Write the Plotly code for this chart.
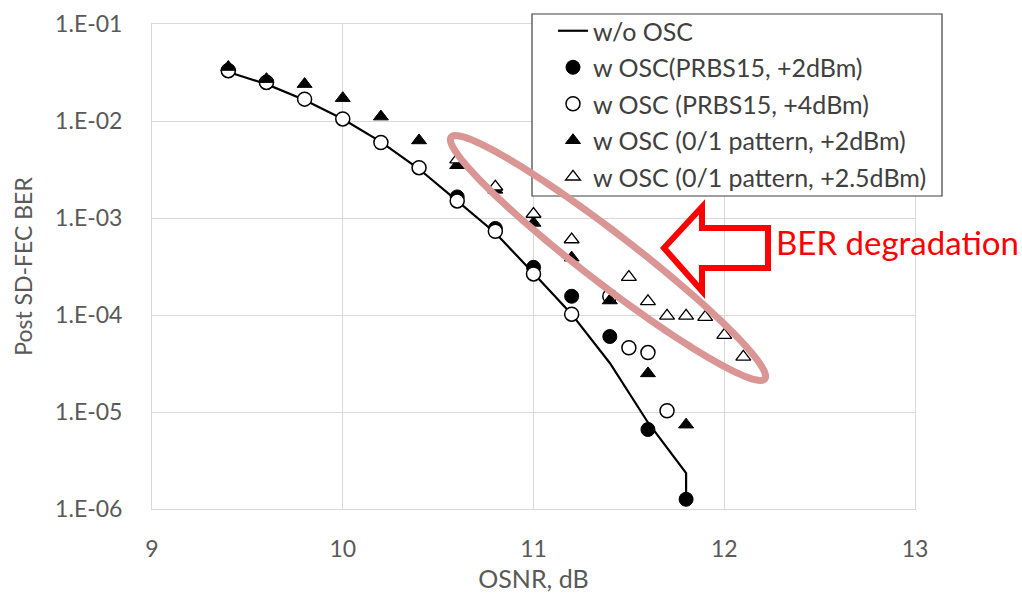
import numpy as np
import plotly.graph_objects as go

# ---- data: OSNR (dB) vs post SD-FEC BER ----
osnr_wo = [9.4, 9.6, 9.8, 10.0, 10.2, 10.4, 10.6, 10.8, 11.0, 11.2, 11.4, 11.6, 11.8, 11.8]
ber_wo = [3.2e-2, 2.4e-2, 1.65e-2, 1.05e-2, 6.1e-3, 3.2e-3, 1.5e-3, 7.0e-4, 2.7e-4,
          1.02e-4, 3.2e-5, 7.8e-6, 2.35e-6, 1.3e-6]

osnr_prbs_2 = [9.4, 9.6, 10.6, 10.8, 11.0, 11.2, 11.4, 11.6, 11.8]
ber_prbs_2 = [3.3e-2, 2.5e-2, 1.65e-3, 7.8e-4, 3.1e-4, 1.56e-4, 6.0e-5, 6.6e-6, 1.26e-6]

osnr_prbs_4 = [9.4, 9.6, 9.8, 10.0, 10.2, 10.4, 10.6, 10.8, 11.0, 11.2, 11.4, 11.5, 11.6, 11.7]
ber_prbs_4 = [3.3e-2, 2.5e-2, 1.68e-2, 1.05e-2, 6.0e-3, 3.3e-3, 1.5e-3, 7.3e-4, 2.65e-4,
              1.02e-4, 1.56e-4, 4.6e-5, 4.1e-5, 1.03e-5]

osnr_pat_2 = [9.4, 9.6, 9.8, 10.0, 10.2, 10.4, 10.6, 10.8, 11.0, 11.2, 11.4, 11.6, 11.8]
ber_pat_2 = [3.6e-2, 2.7e-2, 2.4e-2, 1.72e-2, 1.11e-2, 6.3e-3, 3.5e-3, 1.95e-3, 8.9e-4,
             3.9e-4, 1.41e-4, 2.5e-5, 7.4e-6]

osnr_pat_25 = [10.6, 10.8, 11.0, 11.2, 11.5, 11.6, 11.7, 11.8, 11.9, 12.0, 12.1]
ber_pat_25 = [4.0e-3, 2.1e-3, 1.1e-3, 6.0e-4, 2.46e-4, 1.38e-4, 9.8e-5, 9.8e-5, 9.5e-5,
              6.2e-5, 3.7e-5]

names = ["w/o OSC", "w OSC(PRBS15, +2dBm)", "w OSC (PRBS15, +4dBm)",
         "w OSC (0/1 pattern, +2dBm)", "w OSC (0/1 pattern, +2.5dBm)"]

y_tickvals = [1e-1, 1e-2, 1e-3, 1e-4, 1e-5, 1e-6]
y_ticktext = ["1.E-01", "1.E-02", "1.E-03", "1.E-04", "1.E-05", "1.E-06"]
x_tickvals = [9, 10, 11, 12, 13]

FONT = "Lato, 'Open Sans', sans-serif"
GRAY_TXT = "#595959"
GRID = "#D9D9D9"

# ---- page geometry (pixels) ----
W, H = 1022, 593
ML, MR, MT, MB = 152, 107, 24, 84
PW, PH = W - ML - MR, H - MT - MB


def paper(px, py):
    return (px - ML) / PW, (H - MB - py) / PH


fig = go.Figure()

fig.add_trace(go.Scatter(
    x=osnr_wo, y=ber_wo, mode="lines", name=names[0], legendgroup="a",
    line=dict(color="black", width=2.2)))
fig.add_trace(go.Scatter(
    x=osnr_prbs_2, y=ber_prbs_2, mode="markers", name=names[1], legendgroup="b",
    marker=dict(symbol="circle", size=14, color="black", line=dict(color="black", width=1))))
fig.add_trace(go.Scatter(
    x=osnr_prbs_4, y=ber_prbs_4, mode="markers", name=names[2], legendgroup="c",
    marker=dict(symbol="circle", size=14, color="white", line=dict(color="black", width=1.5))))
fig.add_trace(go.Scatter(
    x=osnr_pat_2, y=ber_pat_2, mode="markers", name=names[3], legendgroup="d",
    marker=dict(symbol="triangle-up", size=13, color="black", line=dict(color="black", width=1))))
fig.add_trace(go.Scatter(
    x=osnr_pat_25, y=ber_pat_25, mode="markers", name=names[4], legendgroup="e",
    marker=dict(symbol="triangle-up", size=13, color="white", line=dict(color="black", width=1.3))))

shapes = []

# legend frame
lx0, ly0 = paper(532, 14)
lx1, ly1 = paper(942, 196)
shapes.append(dict(type="rect", xref="paper", yref="paper", x0=lx0, y0=ly1, x1=lx1, y1=ly0,
                   fillcolor="white", line=dict(color="#404040", width=1.2), layer="above"))

# highlight ellipse around the degraded curve
cx, cy, a, b, ang = 608, 258, 198, 25, np.deg2rad(37.6)
t = np.linspace(0, 2 * np.pi, 121)
ex = cx + a * np.cos(t) * np.cos(ang) - b * np.sin(t) * np.sin(ang)
ey = cy + a * np.cos(t) * np.sin(ang) + b * np.sin(t) * np.cos(ang)
pts = [paper(px, py) for px, py in zip(ex, ey)]
path = "M " + " L ".join(f"{u:.5f},{v:.5f}" for u, v in pts) + " Z"
shapes.append(dict(type="path", xref="paper", yref="paper", path=path,
                   line=dict(color="#D99694", width=7), layer="above"))

# block arrow pointing at the ellipse
arrow_px = [(664, 248), (702, 207), (702, 228), (768, 228), (768, 268), (702, 268), (702, 291)]
apts = [paper(px, py) for px, py in arrow_px]
apath = "M " + " L ".join(f"{u:.5f},{v:.5f}" for u, v in apts) + " Z"
shapes.append(dict(type="path", xref="paper", yref="paper", path=apath,
                   line=dict(color="#FF0000", width=6), layer="above"))

tx, ty = paper(774, 242)

fig.update_layout(
    width=W, height=H,
    margin=dict(l=ML, r=MR, t=MT, b=MB, pad=0, autoexpand=False),
    paper_bgcolor="white", plot_bgcolor="white",
    font=dict(family=FONT, size=23, color=GRAY_TXT),
    showlegend=True,
    legend=dict(x=paper(553, 0)[0], y=paper(0, 8)[1], xanchor="left", yanchor="top",
                bgcolor="rgba(0,0,0,0)", borderwidth=0, traceorder="grouped",
                tracegroupgap=1, font=dict(family=FONT, size=25, color="#404040")),
    shapes=shapes,
    annotations=[dict(text="BER degradation", xref="paper", yref="paper", x=tx, y=ty,
                      xanchor="left", yanchor="middle", showarrow=False,
                      font=dict(family=FONT, size=33, color="#FF0000"))],
    xaxis=dict(range=[9, 13], tickvals=x_tickvals, showgrid=True, gridcolor=GRID, gridwidth=1,
               showline=True, linecolor=GRID, linewidth=1, mirror=True, zeroline=False,
               ticks="", ticklabelstandoff=19, automargin=False,
               title=dict(text="OSNR, dB", standoff=12, font=dict(size=25, color=GRAY_TXT))),
    yaxis=dict(type="log", range=[-6, -1], tickvals=y_tickvals, ticktext=y_ticktext,
               showgrid=True, gridcolor=GRID, gridwidth=1, showline=True, linecolor=GRID,
               linewidth=1, mirror=True, zeroline=False, ticks="", ticklabelstandoff=24,
               automargin=False,
               title=dict(text="Post SD-FEC BER", standoff=16, font=dict(size=23, color=GRAY_TXT))),
)

fig.write_html("out.html")
